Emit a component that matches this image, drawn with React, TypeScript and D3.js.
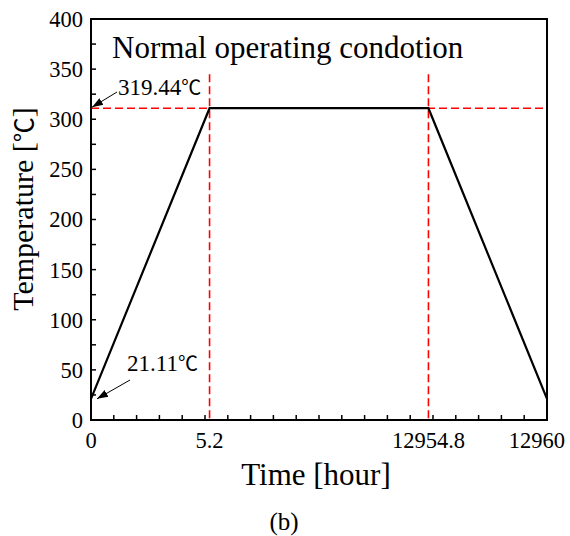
import React, { useEffect, useRef } from 'react'
import * as d3 from 'd3'

// data
const timePoints = [0, 5.2, 12954.8, 12960]
const tempValues = [21.11, 311, 311, 21.11]
const timeTickLabels = ['0', '5.2', '12954.8', '12960']
const tempTicks = [0, 50, 100, 150, 200, 250, 300, 350, 400]
const plateauLabel = '319.44'
const startLabel = '21.11'
const plateauTemp = 311
const startTemp = 21.11
const dashedTop = 345

const width = 570
const height = 536
const FONT = '"Liberation Serif", "Times New Roman", serif'
const CJK = '"Noto Sans CJK SC", sans-serif'

const App: React.FC = () => {
  const svgRef = useRef<SVGSVGElement>(null)

  useEffect(() => {
    const svg = d3.select(svgRef.current)
    svg.selectAll('*').remove()

    const margin = { top: 19, right: 23, bottom: 116, left: 91 }
    const x0 = margin.left
    const x1 = width - margin.right
    const y0 = height - margin.bottom
    const y1 = margin.top

    // broken time axis: 20 equal units, the long plateau squeezed
    const unitScale = d3.scaleLinear()
      .domain(timePoints)
      .range([0, 5.2, 14.8, 20])
    const unitToPx = d3.scaleLinear().domain([0, 20]).range([x0, x1])
    const xScale = (t: number) => unitToPx(unitScale(t))

    const yScale = d3.scaleLinear().domain([0, 400]).range([y0, y1])

    svg.attr('width', width).attr('height', height)

    svg.append('defs').append('marker')
      .attr('id', 'arrow')
      .attr('viewBox', '0 0 10 10')
      .attr('refX', 10)
      .attr('refY', 5)
      .attr('markerWidth', 11)
      .attr('markerHeight', 11)
      .attr('markerUnits', 'userSpaceOnUse')
      .attr('orient', 'auto')
      .append('path')
      .attr('d', 'M0,1.5 L10,5 L0,8.5 Z')
      .attr('fill', '#000')

    // red dashed guides
    const dash = { stroke: '#ff0000', w: 1.6, arr: '8,4' }
    svg.append('line')
      .attr('x1', x0).attr('x2', x1)
      .attr('y1', yScale(plateauTemp)).attr('y2', yScale(plateauTemp))
      .attr('stroke', dash.stroke).attr('stroke-width', dash.w)
      .attr('stroke-dasharray', dash.arr)
    ;[timePoints[1], timePoints[2]].forEach(t => {
      svg.append('line')
        .attr('x1', xScale(t)).attr('x2', xScale(t))
        .attr('y1', yScale(dashedTop)).attr('y2', y0)
        .attr('stroke', dash.stroke).attr('stroke-width', dash.w)
        .attr('stroke-dasharray', dash.arr)
    })

    // temperature profile
    const line = d3.line<number>()
      .x((_, i) => xScale(timePoints[i]))
      .y(d => yScale(d))
    svg.append('path')
      .datum(tempValues)
      .attr('fill', 'none')
      .attr('stroke', '#000')
      .attr('stroke-width', 2.2)
      .attr('d', line)

    // frame
    svg.append('rect')
      .attr('x', x0).attr('y', y1)
      .attr('width', x1 - x0).attr('height', y0 - y1)
      .attr('fill', 'none')
      .attr('stroke', '#000')
      .attr('stroke-width', 2)

    // x ticks (inward)
    d3.range(1, 20).forEach(u => {
      svg.append('line')
        .attr('x1', unitToPx(u)).attr('x2', unitToPx(u))
        .attr('y1', y0).attr('y2', y0 - 5)
        .attr('stroke', '#000').attr('stroke-width', 1.5)
    })
    timePoints.forEach((t, i) => {
      const last = i === timePoints.length - 1
      svg.append('text')
        .attr('x', last ? width - 5 : xScale(t))
        .attr('y', y0 + 28)
        .attr('text-anchor', last ? 'end' : 'middle')
        .attr('font-family', FONT)
        .attr('font-size', 22.5)
        .text(timeTickLabels[i])
    })

    // y ticks (inward) with minor ticks
    d3.range(25, 400, 25).forEach(v => {
      svg.append('line')
        .attr('x1', x0).attr('x2', x0 + 5)
        .attr('y1', yScale(v)).attr('y2', yScale(v))
        .attr('stroke', '#000').attr('stroke-width', 1.5)
    })
    tempTicks.forEach(v => {
      svg.append('text')
        .attr('x', x0 - 8)
        .attr('y', yScale(v))
        .attr('dy', '0.35em')
        .attr('text-anchor', 'end')
        .attr('font-family', FONT)
        .attr('font-size', 22.5)
        .text(String(v))
    })

    // axis titles
    svg.append('text')
      .attr('x', 316)
      .attr('y', 485)
      .attr('text-anchor', 'middle')
      .attr('font-family', FONT)
      .attr('font-size', 31)
      .text('Time [hour]')

    const yTitle = svg.append('text')
      .attr('transform', `translate(33,${209}) rotate(-90)`)
      .attr('text-anchor', 'middle')
      .attr('font-family', FONT)
      .attr('font-size', 30)
    yTitle.append('tspan').text('Temperature [')
    yTitle.append('tspan').attr('font-family', CJK).attr('font-size', 25).text('℃')
    yTitle.append('tspan').text(']')

    svg.append('text')
      .attr('x', 284)
      .attr('y', 530)
      .attr('text-anchor', 'middle')
      .attr('font-family', FONT)
      .attr('font-size', 25)
      .text('(b)')

    // title inside plot
    svg.append('text')
      .attr('x', 112)
      .attr('y', 58)
      .attr('font-family', FONT)
      .attr('font-size', 31)
      .text('Normal operating condotion')

    // annotations
    const t1 = svg.append('text')
      .attr('x', 118)
      .attr('y', 95)
      .attr('font-family', FONT)
      .attr('font-size', 23)
    t1.append('tspan').text(plateauLabel)
    t1.append('tspan').attr('font-family', CJK).attr('font-size', 20).text('℃')
    svg.append('line')
      .attr('x1', 117).attr('y1', 92)
      .attr('x2', x0 + 1).attr('y2', yScale(plateauTemp) - 1)
      .attr('stroke', '#000').attr('stroke-width', 1)
      .attr('marker-end', 'url(#arrow)')

    const t2 = svg.append('text')
      .attr('x', 127)
      .attr('y', 371)
      .attr('font-family', FONT)
      .attr('font-size', 23)
    t2.append('tspan').text(startLabel)
    t2.append('tspan').attr('font-family', CJK).attr('font-size', 20).text('℃')
    svg.append('line')
      .attr('x1', 130).attr('y1', 380)
      .attr('x2', x0 + 6).attr('y2', yScale(startTemp))
      .attr('stroke', '#000').attr('stroke-width', 1)
      .attr('marker-end', 'url(#arrow)')
  }, [])

  return (
    <svg
      ref={svgRef}
      style={{ position: 'absolute', left: 0, top: 0, background: '#fff' }}
    ></svg>
  )
}

export default App
